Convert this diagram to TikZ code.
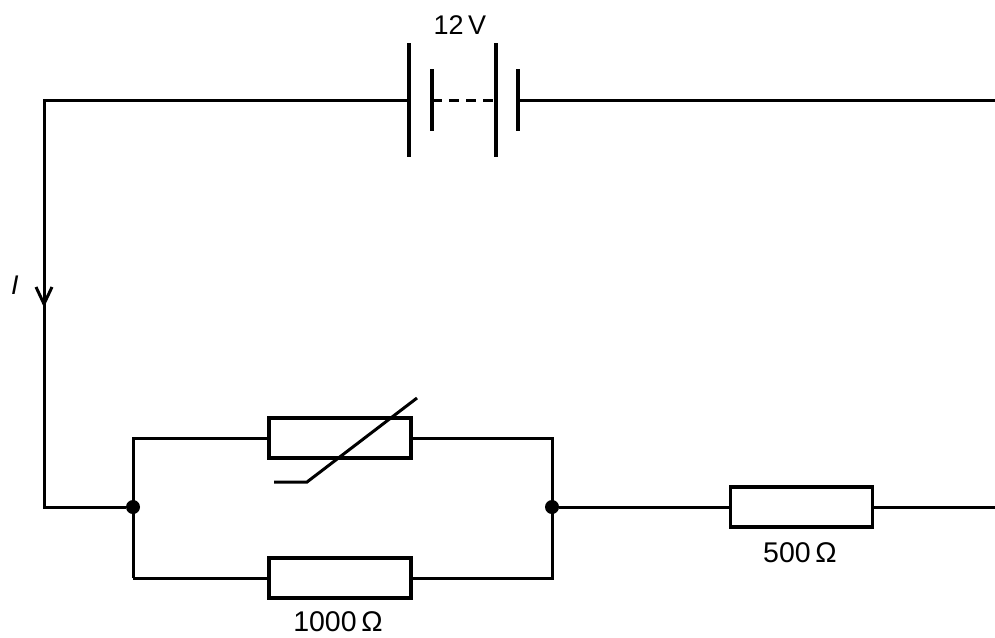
\documentclass[tikz,border=0pt]{standalone}
\usepackage{fontspec}
\setmainfont{Liberation Sans}
\begin{document}
\begin{tikzpicture}[x=1pt,y=-1pt,
  wire/.style={line width=3pt},
  plate/.style={line width=3.2pt},
  resbox/.style={draw,line width=3.6pt,minimum width=142pt,minimum height=40pt,inner sep=0pt},
  jdot/.style={circle,fill,inner sep=0pt,minimum size=14pt},
  lbl/.style={font=\fontsize{27}{32}\selectfont,inner sep=0pt},
  rlbl/.style={font=\fontsize{28.5}{32}\selectfont,inner sep=0pt}]
\useasboundingbox (0,0) rectangle (995,637);
% corners and ends
\coordinate (tl) at (44,100);
\coordinate (bl) at (44,507);
\coordinate (tr) at (995,100);
\coordinate (br) at (995,507);
% junctions
\node[jdot] (jl) at (133,507) {};
\node[jdot] (jr) at (552,507) {};
\coordinate (jlt) at (133,438);
\coordinate (jlb) at (133,578);
\coordinate (jrt) at (552,438);
\coordinate (jrb) at (552,578);
% resistors
\node[resbox] (th) at (340,438) {};
\node[resbox] (r1000) at (340,578) {};
\node[resbox] (r500) at (801.5,507) {};
% battery plates
\coordinate (p1t) at (409,43);  \coordinate (p1b) at (409,157); \coordinate (p1) at (409,100);
\coordinate (p2t) at (432,69);  \coordinate (p2b) at (432,131); \coordinate (p2) at (432,100);
\coordinate (p3t) at (496,43);  \coordinate (p3b) at (496,157); \coordinate (p3) at (496,100);
\coordinate (p4t) at (518,69);  \coordinate (p4b) at (518,131); \coordinate (p4) at (518,100);
\draw[plate] (p1t) -- (p1b);
\draw[plate] (p2t) -- (p2b);
\draw[plate] (p3t) -- (p3b);
\draw[plate] (p4t) -- (p4b);
\draw[wire,dash pattern=on 10pt off 7pt] (p2) -- (p3);
% wires
\draw[wire] (p1) -- (tl) -- (bl) -- (jl);
\draw[wire] (p4) -- (tr);
\draw[wire] (jlb) -- (jlt) -- (th.west);
\draw[wire] (th.east) -- (jrt) -- (jrb) -- (r1000.east);
\draw[wire] (r1000.west) -- (jlb);
\draw[wire] (jr) -- (r500.west);
\draw[wire] (r500.east) -- (br);
% thermistor slash
\coordinate (s1) at (274,482);
\coordinate (s2) at (307,482);
\coordinate (s3) at (417,398);
\draw[wire] (s1) -- (s2) -- (s3);
% current arrow
\coordinate (a1) at (36,287);
\coordinate (a2) at (44,304);
\coordinate (a3) at (52,287);
\draw[wire,line join=miter] (a1) -- (a2) -- (a3);
% labels
\node[lbl] (lv) at (460,25) {12\,V};
\node[lbl] (li) at (15,285) {\itshape I};
\node[rlbl] (l1000) at (338,622) {1000\,Ω};
\node[rlbl] (l500) at (800,553) {500\,Ω};
\end{tikzpicture}
\end{document}
